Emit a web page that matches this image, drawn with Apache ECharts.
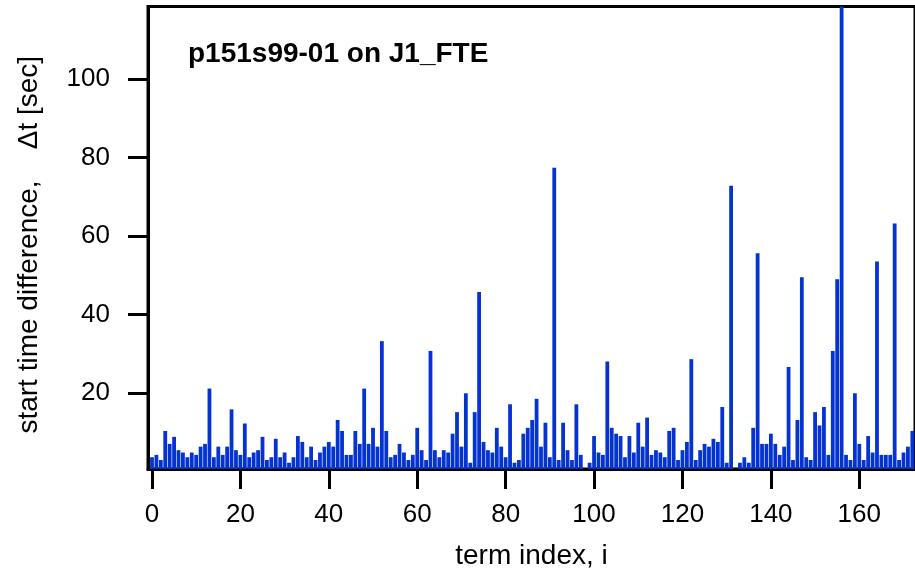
<!DOCTYPE html>
<html>
<head>
<meta charset="utf-8">
<script src="https://cdn.jsdelivr.net/npm/echarts@6/dist/echarts.min.js"></script>
<style>
html,body{margin:0;padding:0;background:#fff;}
#chart{width:915px;height:575px;}
</style>
</head>
<body>
<div id="chart"></div>
<script>
const chartTitle = 'p151s99-01 on J1_FTE';
const xAxisTitle = 'term index, i';
const yAxisTitle = 'start time difference,    \u0394t [sec]';
const xTickValues = [0, 20, 40, 60, 80, 100, 120, 140, 160];
const yTickValues = [20, 40, 60, 80, 100];
const deltaT = [
  3.6, 4.2, 2.9, 10.3, 7.0, 8.8, 5.4, 4.8, 3.6, 4.8,
  4.2, 6.3, 7.0, 21.1, 3.6, 6.3, 4.2, 6.3, 15.8, 5.4,
  4.2, 12.2, 3.6, 4.8, 5.4, 8.8, 2.9, 3.6, 8.3, 3.6,
  4.8, 2.2, 3.6, 9.0, 7.5, 3.6, 6.3, 2.9, 4.8, 6.3,
  7.5, 6.3, 13.1, 10.3, 4.2, 4.2, 10.3, 7.0, 21.1, 7.0,
  11.1, 6.3, 33.2, 10.3, 3.6, 4.2, 7.0, 4.8, 2.9, 4.2,
  11.1, 5.4, 2.9, 30.7, 5.4, 3.6, 5.4, 4.8, 9.6, 15.1,
  6.3, 19.9, 2.2, 15.1, 45.7, 7.5, 5.4, 4.8, 11.1, 6.3,
  3.6, 17.1, 2.2, 2.9, 9.6, 11.1, 13.1, 18.5, 6.3, 12.4,
  3.6, 77.4, 2.9, 12.4, 5.4, 2.9, 17.1, 4.2, 0.3, 2.2,
  9.0, 4.8, 4.2, 28.0, 11.1, 9.6, 9.0, 3.6, 9.0, 4.8,
  12.4, 6.3, 13.7, 4.2, 5.4, 4.8, 3.6, 10.3, 11.1, 2.9,
  5.4, 7.5, 28.6, 2.9, 5.4, 7.0, 6.3, 8.3, 7.5, 16.4,
  2.2, 72.8, 0.3, 2.2, 3.6, 2.2, 11.1, 55.6, 7.0, 7.0,
  9.6, 7.0, 4.2, 6.3, 26.6, 2.9, 13.1, 49.5, 3.6, 2.9,
  15.1, 11.7, 16.4, 4.2, 30.7, 49.0, 120.0, 4.2, 2.9, 19.9,
  7.0, 2.9, 9.0, 4.8, 53.5, 4.2, 4.2, 4.2, 63.2, 2.9,
  4.8, 6.3, 10.3
];

const FONT = '"Liberation Sans", Arial, Helvetica, sans-serif';
const seriesData = deltaT.map((v, i) => [i, v]);

const chart = echarts.init(document.getElementById('chart'), null, {renderer: 'canvas'});
chart.setOption({
  animation: false,
  backgroundColor: '#ffffff',
  title: {
    text: chartTitle,
    left: 188,
    top: 40,
    padding: 0,
    textStyle: {fontFamily: FONT, fontSize: 28, fontWeight: 'bold', color: '#000'}
  },
  grid: {
    left: 148, right: -3, top: 6.5, bottom: 102.3,
    show: true, borderColor: '#000', borderWidth: 3, backgroundColor: 'transparent'
  },
  xAxis: {
    type: 'value',
    min: -0.9,
    max: 172.6,
    name: xAxisTitle,
    nameLocation: 'middle',
    nameGap: 73,
    nameTextStyle: {fontFamily: FONT, fontSize: 28, color: '#000'},
    axisLine: {show: true, onZero: false, lineStyle: {color: '#000', width: 3}},
    axisTick: {show: true, customValues: xTickValues, length: 20, lineStyle: {color: '#000', width: 3}},
    axisLabel: {customValues: xTickValues, margin: 33, fontFamily: FONT, fontSize: 26, color: '#000'},
    splitLine: {show: false}
  },
  yAxis: {
    type: 'value',
    min: 0.6,
    max: 118.5,
    name: yAxisTitle,
    nameLocation: 'middle',
    nameGap: 105,
    nameTextStyle: {fontFamily: FONT, fontSize: 28, color: '#000', padding: [0, 14, 0, 0]},
    axisLine: {show: true, onZero: false, lineStyle: {color: '#000', width: 3}},
    axisTick: {show: true, customValues: yTickValues, length: 20, lineStyle: {color: '#000', width: 3}},
    axisLabel: {customValues: yTickValues, margin: 38, fontFamily: FONT, fontSize: 26, color: '#000'},
    splitLine: {show: false}
  },
  series: [{
    type: 'bar',
    data: seriesData,
    barWidth: 3.8,
    itemStyle: {color: '#0433d0'},
    clip: true
  }]
});
</script>
</body>
</html>
